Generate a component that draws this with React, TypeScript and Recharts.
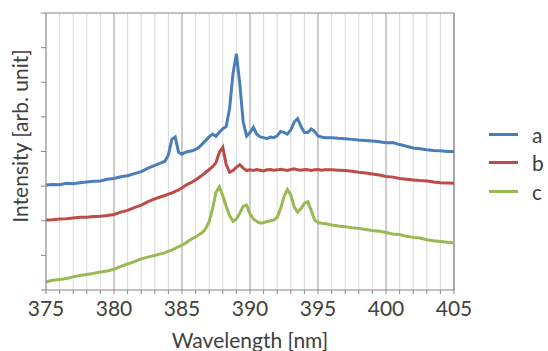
import React from "react";
import {
  LineChart,
  Line,
  XAxis,
  YAxis,
  CartesianGrid,
  ReferenceLine,
  Legend,
} from "recharts";

// wavelength samples in nm (finer around the emission peaks)
const wavelengths = [
  375, 375.5, 376, 376.5, 377, 377.5, 378, 378.5, 379, 379.5, 380, 380.5, 381, 381.5, 382, 382.5, 383, 383.5,
  383.75, 384, 384.25, 384.5, 384.75, 385, 385.25, 385.5, 385.75, 386, 386.25, 386.5, 386.75, 387, 387.25, 387.5,
  387.75, 388, 388.25, 388.5, 388.75, 389, 389.25, 389.5, 389.75, 390, 390.25, 390.5, 390.75, 391, 391.25, 391.5,
  391.75, 392, 392.25, 392.5, 392.75, 393, 393.25, 393.5, 393.75, 394, 394.25, 394.5, 394.75, 395, 395.25, 395.5,
  396, 396.5, 397, 397.5, 398, 398.5, 399, 399.5, 400, 400.5, 401, 401.5, 402, 402.5, 403, 403.5, 404, 404.5, 405,
];

const seriesA = [
  3.03, 3.05, 3.04, 3.08, 3.07, 3.1, 3.12, 3.14, 3.15, 3.2, 3.22, 3.27, 3.3, 3.36, 3.42, 3.52, 3.6, 3.68,
  3.72, 3.9, 4.35, 4.42, 3.98, 3.92, 3.98, 4.0, 4.02, 4.06, 4.12, 4.22, 4.32, 4.42, 4.5, 4.44,
  4.56, 4.66, 4.72, 5.25, 6.25, 6.82, 5.95, 4.85, 4.45, 4.55, 4.7, 4.5, 4.42, 4.4, 4.37, 4.42,
  4.4, 4.45, 4.58, 4.55, 4.5, 4.62, 4.85, 4.95, 4.72, 4.55, 4.55, 4.65, 4.58, 4.45, 4.42, 4.4,
  4.4, 4.38, 4.37, 4.35, 4.33, 4.32, 4.3, 4.28, 4.25, 4.26, 4.2, 4.15, 4.1, 4.08, 4.05, 4.03, 4.02, 4.0, 4.0,
];

const seriesB = [
  2.02, 2.03, 2.05, 2.06, 2.08, 2.1, 2.1, 2.12, 2.13, 2.15, 2.18, 2.25, 2.3, 2.38, 2.45, 2.55, 2.63, 2.7,
  2.73, 2.77, 2.8, 2.85, 2.89, 2.95, 3.02, 3.07, 3.12, 3.18, 3.25, 3.32, 3.4, 3.48, 3.56, 3.68,
  3.98, 4.12, 3.62, 3.4, 3.45, 3.55, 3.62, 3.52, 3.45, 3.47, 3.45, 3.48, 3.46, 3.44, 3.47, 3.48,
  3.46, 3.47, 3.49, 3.47, 3.45, 3.48, 3.5, 3.47, 3.46, 3.48, 3.47, 3.45, 3.47, 3.48, 3.46, 3.47,
  3.47, 3.46, 3.45, 3.43, 3.4, 3.38, 3.35, 3.32, 3.28, 3.26, 3.22, 3.2, 3.18, 3.16, 3.15, 3.12, 3.1, 3.09, 3.08,
];

const seriesC = [
  0.24, 0.28, 0.3, 0.33, 0.38, 0.42, 0.45, 0.48, 0.52, 0.55, 0.6, 0.68, 0.75, 0.82, 0.9, 0.95, 1.0, 1.05,
  1.08, 1.12, 1.15, 1.2, 1.25, 1.3, 1.35, 1.42, 1.48, 1.53, 1.6, 1.66, 1.78, 1.98, 2.35, 2.82,
  2.98, 2.72, 2.42, 2.15, 1.98, 2.05, 2.22, 2.42, 2.45, 2.2, 2.05, 1.98, 1.93, 1.95, 1.98, 2.0,
  2.02, 2.1, 2.35, 2.7, 2.9, 2.75, 2.4, 2.25, 2.35, 2.5, 2.55, 2.3, 2.02, 1.95, 1.93, 1.92,
  1.88, 1.85, 1.83, 1.8, 1.78, 1.75, 1.72, 1.7, 1.66, 1.62, 1.6, 1.55, 1.52, 1.5, 1.45, 1.42, 1.4, 1.38, 1.36,
];

const xTicks = [
  375, 376, 377, 378, 379, 380, 381, 382, 383, 384, 385, 386, 387, 388, 389, 390,
  391, 392, 393, 394, 395, 396, 397, 398, 399, 400, 401, 402, 403, 404, 405,
];
const majorTicks = [380, 385, 390, 395, 400, 405];
const yTicks = [0, 1, 2, 3, 4, 5, 6, 7, 8];

const data = wavelengths.map((w, i) => ({ w, a: seriesA[i], b: seriesB[i], c: seriesC[i] }));

const FONT = "Lato, 'Open Sans', sans-serif";
const TEXT = "#404040";
const AXIS = "#868686";

function LegendBox({ payload }: { payload?: { value: string; color: string }[] }) {
  return (
    <div style={{ fontFamily: FONT, fontSize: 21, color: TEXT }}>
      {(payload || []).map((p) => (
        <div key={p.value} style={{ display: "flex", alignItems: "center", height: 28.5 }}>
          <span style={{ display: "inline-block", width: 29, height: 3, background: p.color, marginRight: 14 }} />
          <span style={{ lineHeight: "21px" }}>{p.value}</span>
        </div>
      ))}
    </div>
  );
}

function YTitle() {
  return (
    <text
      transform="translate(28,136) rotate(-90)"
      textAnchor="middle"
      fill={TEXT}
      fontSize={21}
      fontFamily={FONT}
    >
      Intensity [arb. unit]
    </text>
  );
}

export default function App() {
  return (
    <div style={{ position: "absolute", left: 0, top: 0, background: "#fff" }}>
      <LineChart width={548} height={351} data={data} margin={{ top: 13, right: 94, left: 0, bottom: 0 }}>
        <CartesianGrid vertical horizontal={false} stroke="#dadada" />
        {majorTicks.map((t) => (
          <ReferenceLine key={t} x={t} stroke="#ababab" />
        ))}
        <ReferenceLine y={8} stroke={AXIS} />
        <ReferenceLine x={405} stroke={AXIS} />
        <XAxis
          dataKey="w"
          type="number"
          domain={[375, 405]}
          ticks={xTicks}
          interval={0}
          tickFormatter={(v: number) => (v % 5 === 0 ? String(v) : "")}
          height={61}
          stroke={AXIS}
          tickSize={4}
          tickMargin={7}
          tick={{ fill: TEXT, fontSize: 21, fontFamily: FONT }}
          label={{
            value: "Wavelength [nm]",
            position: "insideBottom",
            offset: 3,
            fill: TEXT,
            fontSize: 21,
            fontFamily: FONT,
          }}
        />
        <YAxis
          type="number"
          domain={[0, 8]}
          ticks={yTicks}
          width={46}
          stroke={AXIS}
          tickSize={5}
          tick={() => <g />}
          label={{ content: <YTitle /> }}
        />
        <Legend
          layout="vertical"
          align="center"
          verticalAlign="middle"
          wrapperStyle={{ left: 489, top: 120, width: 60 }}
          content={<LegendBox />}
        />
        <Line type="linear" dataKey="a" name="a" stroke="#4a7ebb" strokeWidth={3} dot={false} isAnimationActive={false} />
        <Line type="linear" dataKey="b" name="b" stroke="#be4b48" strokeWidth={3} dot={false} isAnimationActive={false} />
        <Line type="linear" dataKey="c" name="c" stroke="#98b954" strokeWidth={3} dot={false} isAnimationActive={false} />
      </LineChart>
    </div>
  );
}
